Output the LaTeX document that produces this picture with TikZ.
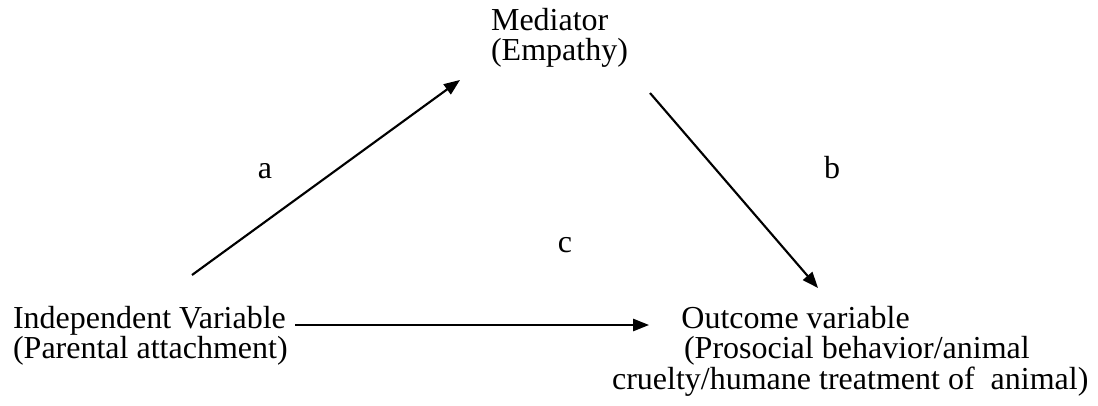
\documentclass[tikz,border=0pt]{standalone}
\usepackage{fontspec}
\setmainfont{Liberation Serif}
\usetikzlibrary{arrows.meta}
\begin{document}
\begin{tikzpicture}[x=0.375pt, y=-0.375pt, >={Triangle[length=6pt,width=4.6pt]}, line width=0.8pt,
  txt/.style={inner sep=0pt, align=left, anchor=north west, font=\fontsize{12}{11.4}\selectfont},
  lbl/.style={inner sep=0pt, font=\fontsize{12}{11.4}\selectfont}]
\useasboundingbox (0,0) rectangle (1098,406);
\node[txt] (med) at (490,7) {Mediator\\(Empathy)};
\node[txt] (iv) at (12,305) {Independent Variable\\(Parental attachment)};
\node[txt] (ov) at (611,305) {\hspace*{26pt}Outcome variable\\\hspace*{27pt}(Prosocial behavior/animal\\cruelty/humane treatment of\ \ animal)};
\node[lbl] (la) at (265,171) {a};
\node[lbl] (lb) at (832,168) {b};
\node[lbl] (lc) at (565,245) {c};
\coordinate (a1) at (192,275);
\coordinate (a2) at (460,80);
\coordinate (b1) at (650,93);
\coordinate (b2) at (818,288);
\coordinate (c1) at (295,325);
\coordinate (c2) at (649,325);
\draw[->] (a1) -- (a2);
\draw[->] (b1) -- (b2);
\draw[->] (c1) -- (c2);
\end{tikzpicture}
\end{document}
